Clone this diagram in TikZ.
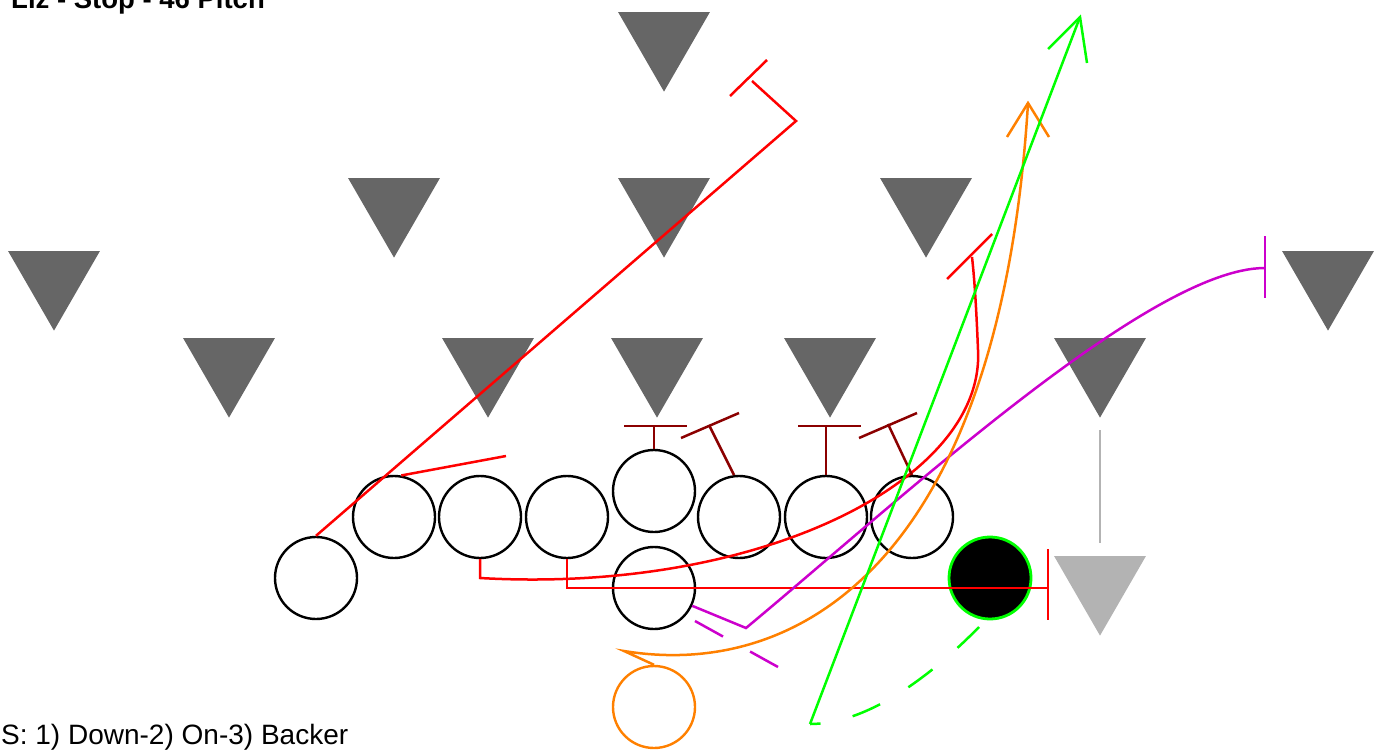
\documentclass[tikz,border=0pt]{standalone}
\usepackage{fontspec}
\setmainfont{Liberation Sans}
\usetikzlibrary{shapes.geometric}
\definecolor{dgray}{RGB}{102,102,102}
\definecolor{lgray}{RGB}{179,179,179}
\definecolor{rred}{RGB}{255,0,0}
\definecolor{dred}{RGB}{139,0,0}
\definecolor{mag}{RGB}{204,0,204}
\definecolor{orng}{RGB}{255,128,0}
\definecolor{grn}{RGB}{0,255,0}
\begin{document}
\begin{tikzpicture}[x=1pt,y=-1pt,
  dtri/.style={regular polygon, regular polygon sides=3, shape border rotate=180,
    minimum size=106pt, inner sep=0pt, outer sep=0pt, fill=dgray},
  ltri/.style={dtri, fill=lgray},
  player/.style={circle, draw=black, line width=2.4pt, minimum size=82pt, inner sep=0pt},
  qb/.style={player, draw=grn, fill=black, line width=2.8pt},
  rb/.style={player, draw=orng},
  route/.style={line width=2.5pt, line cap=butt, line join=miter},
  redr/.style={route, draw=rred},
  dredr/.style={route, draw=dred},
  magr/.style={route, draw=mag},
  orr/.style={route, draw=orng},
  grr/.style={route, draw=grn},
  grayr/.style={route, draw=lgray}]
\useasboundingbox (0,0) rectangle (1380,755);

% texts
\node[anchor=base west, inner sep=0pt, font=\bfseries\fontsize{27.5}{32}\selectfont] (title) at (11,8) {Liz - Stop - 46 Pitch};
\node[anchor=base west, inner sep=0pt, font=\fontsize{28}{32}\selectfont] (note) at (1,744) {S: 1) Down-2) On-3) Backer};

% defense
\node[dtri] (s1) at (664,38.6) {};
\node[dtri] (l1) at (394,204.6) {};
\node[dtri] (l2) at (664,204.6) {};
\node[dtri] (l3) at (926,204.6) {};
\node[dtri] (c1) at (54,277.6) {};
\node[dtri] (c2) at (1328,277.6) {};
\node[dtri] (d1) at (229,364.6) {};
\node[dtri] (d2) at (488,364.6) {};
\node[dtri] (d3) at (657,364.6) {};
\node[dtri] (d4) at (830,364.6) {};
\node[dtri] (d5) at (1100,364.6) {};
\node[ltri] (d6) at (1100,582.6) {};

% offense
\node[player] (wr) at (316,578) {};
\node[player] (te) at (394,517) {};
\node[player] (lt) at (480,517) {};
\node[player] (lg) at (567,517) {};
\node[player] (ce) at (654,491) {};
\node[player] (rg) at (739,517) {};
\node[player] (rt) at (826,517) {};
\node[player] (ty) at (912,517) {};
\node[player] (fb) at (654,588) {};
\node[qb] (q) at (990,578) {};
\node[rb] (hb) at (654,707) {};

% coordinates
\coordinate (wrT) at (752,81);
\coordinate (teE) at (506,456);
\coordinate (ltT) at (972,257);
\coordinate (lgT) at (1048,588);
\coordinate (fbT) at (1265,268);
\coordinate (hbT) at (1028,103);
\coordinate (qbD) at (810,724);
\coordinate (qbT) at (1080,17);

% gray line
\draw[grayr] (1100,430) -- (1100,543);

% red routes
\draw[redr] (wr.north) -- (796,121) -- (wrT);
\draw[redr] (730,96) -- (767,60);
\draw[redr] (te.80) -- (teE);
\draw[redr] (lt.south) -- (480,578) .. controls (760,594) and (985,480) .. (978,350) .. controls (976,300) and (974,275) .. (ltT);
\draw[redr] (947,279) -- (992,234);
\draw[redr] (lg.south) -- (567,588) -- (lgT);
\draw[redr] (1048,549) -- (1048,620);

% dark red blocks
\draw[dredr] (ce.north) -- (654,426);
\draw[dredr] (624,426) -- (687,426);
\draw[dredr] (734,475) -- (709,425);
\draw[dredr] (681,438) -- (739,413);
\draw[dredr] (rt.north) -- (826,426);
\draw[dredr] (798,426) -- (861,426);
\draw[dredr] (912,475) -- (888,424);
\draw[dredr] (859,438) -- (917,413);

% magenta
\draw[magr] (fb.-25) -- (746,628) .. controls (900,500) and (1150,268) .. (fbT);
\draw[magr] (1265,236) -- (1265,298);
\draw[magr, dash pattern=on 32pt off 31pt] (695,621) -- (778,667);

% orange
\draw[orr] (hb.north) -- (624,651) .. controls (800,680) and (1000,560) .. (hbT);
\draw[orr] (1007,137) -- (hbT) -- (1049,137);

% green
\draw[grr, dash pattern=on 30pt off 33pt] (979,627) .. controls (935,672) and (870,724) .. (qbD);
\draw[grr] (qbD) -- (qbT);
\draw[grr] (1048,49) -- (qbT) -- (1087,63);
\end{tikzpicture}
\end{document}
